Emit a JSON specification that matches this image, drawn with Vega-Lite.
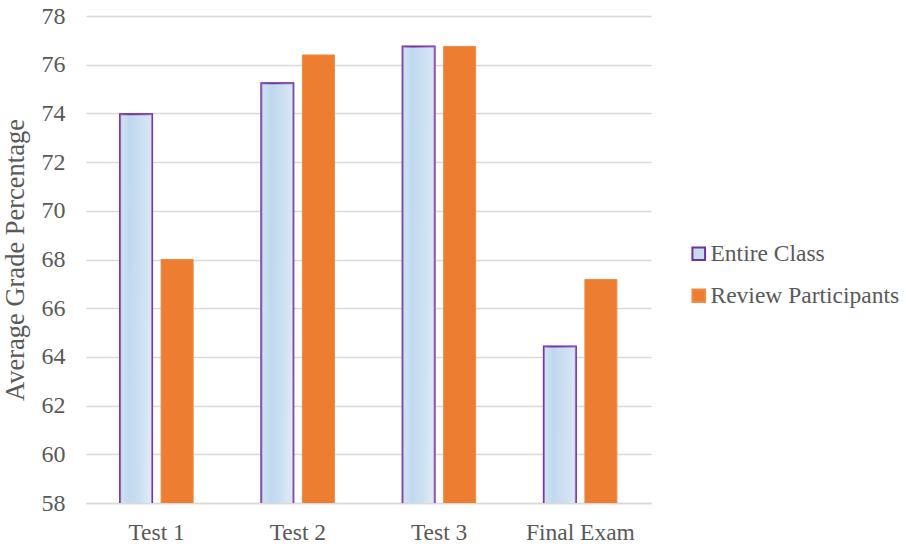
{
  "$schema": "https://vega.github.io/schema/vega-lite/v6.json",
  "autosize": {"type": "none"},
  "padding": {"left": 86, "top": 16, "right": 255, "bottom": 43},
  "width": 565,
  "height": 487,
  "background": "white",
  "config": {
    "font": "Liberation Serif",
    "view": {"stroke": null},
    "axis": {
      "labelFont": "Liberation Serif",
      "titleFont": "Liberation Serif",
      "labelColor": "#595959",
      "titleColor": "#595959",
      "titleFontWeight": "normal",
      "labelFontSize": 23.5
    },
    "legend": {
      "labelFont": "Liberation Serif",
      "labelColor": "#595959",
      "labelFontSize": 23.5,
      "labelLimit": 400,
      "labelOffset": 0,
      "rowPadding": 17,
      "symbolType": "square",
      "symbolSize": 160,
      "symbolStrokeWidth": 2,
      "orient": "none",
      "legendX": 601,
      "legendY": 226
    }
  },
  "data": {
    "values": [
      {"exam": "Test 1", "series": "Entire Class", "grade": 73.97},
      {"exam": "Test 1", "series": "Review Participants", "grade": 68.0},
      {"exam": "Test 2", "series": "Entire Class", "grade": 75.24},
      {"exam": "Test 2", "series": "Review Participants", "grade": 76.4},
      {"exam": "Test 3", "series": "Entire Class", "grade": 76.75},
      {"exam": "Test 3", "series": "Review Participants", "grade": 76.75},
      {"exam": "Final Exam", "series": "Entire Class", "grade": 64.43},
      {"exam": "Final Exam", "series": "Review Participants", "grade": 67.18}
    ]
  },
  "encoding": {
    "x": {
      "field": "exam",
      "type": "nominal",
      "sort": ["Test 1", "Test 2", "Test 3", "Final Exam"],
      "scale": {"paddingInner": 0.483, "paddingOuter": 0.2415},
      "axis": {
        "title": null,
        "labelAngle": 0,
        "labelFont": "Liberation Serif",
        "labelFontSize": 23.5,
        "labelPadding": 17,
        "ticks": false,
        "domain": true,
        "domainColor": "#D9D9D9",
        "domainWidth": 1.5
      }
    },
    "xOffset": {
      "field": "series",
      "type": "nominal",
      "scale": {"domain": ["Entire Class", "Review Participants"], "paddingInner": 0.22, "paddingOuter": 0}
    },
    "y": {
      "field": "grade",
      "type": "quantitative",
      "scale": {"domain": [58, 78], "zero": false, "nice": false},
      "axis": {
        "title": "Average Grade Percentage",
        "titleFontSize": 26.5,
        "titlePadding": 12,
        "labelFont": "Liberation Serif",
        "labelFontSize": 24,
        "labelPadding": 21,
        "values": [58, 60, 62, 64, 66, 68, 70, 72, 74, 76, 78],
        "ticks": false,
        "domain": false,
        "grid": true,
        "gridColor": "#D9D9D9",
        "gridWidth": 1.5
      }
    }
  },
  "layer": [
    {
      "mark": {"type": "bar", "strokeWidth": 1, "clip": true},
      "encoding": {
        "color": {
          "field": "series",
          "type": "nominal",
          "scale": {"domain": ["Entire Class", "Review Participants"], "range": ["#C9DDF1", "#ED7D31"]},
          "legend": {"title": null}
        },
        "stroke": {
          "field": "series",
          "type": "nominal",
          "scale": {"domain": ["Entire Class", "Review Participants"], "range": ["#7030A0", "#F08A45"]},
          "legend": {"title": null}
        }
      }
    },
    {
      "transform": [{"filter": "datum.series === 'Entire Class'"}],
      "mark": {
        "type": "bar",
        "clip": true,
        "stroke": "#7030A0",
        "strokeWidth": 2,
        "fill": {
          "gradient": "linear",
          "x1": 0, "y1": 0, "x2": 0.7, "y2": 1,
          "stops": [
            {"offset": 0, "color": "#BDD7EE"},
            {"offset": 0.45, "color": "#C3DAF0"},
            {"offset": 1, "color": "#F2F6FC"}
          ]
        }
      }
    },
    {
      "transform": [{"filter": "datum.series === 'Entire Class'"}],
      "mark": {
        "type": "bar",
        "clip": true,
        "strokeWidth": 0,
        "fill": {
          "gradient": "linear",
          "x1": 0, "y1": 0, "x2": 1, "y2": 0,
          "stops": [
            {"offset": 0, "color": "rgba(255,255,255,0.3)"},
            {"offset": 0.3, "color": "rgba(255,255,255,0)"},
            {"offset": 1, "color": "rgba(255,255,255,0.35)"}
          ]
        }
      }
    }
  ]
}
